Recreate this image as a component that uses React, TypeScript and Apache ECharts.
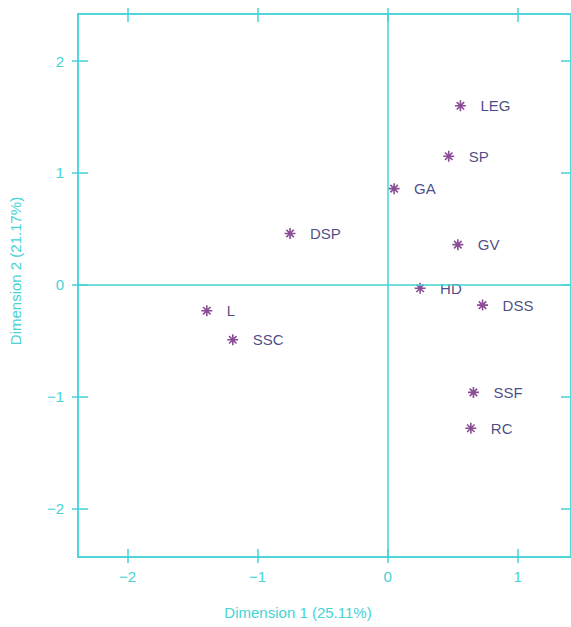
import React, { useEffect, useRef } from "react";
import * as echarts from "echarts";

const names = ["LEG", "SP", "GA", "GV", "HD", "DSS", "DSP", "L", "SSC", "SSF", "RC"];
const dim1 = [0.56, 0.47, 0.05, 0.54, 0.25, 0.73, -0.75, -1.39, -1.19, 0.66, 0.64];
const dim2 = [1.6, 1.15, 0.86, 0.36, -0.03, -0.18, 0.46, -0.23, -0.49, -0.96, -1.28];
const xTicks = [-2, -1, 0, 1];
const yTicks = [-2, -1, 0, 1, 2];
const xName = "Dimension 1 (25.11%)";
const yName = "Dimension 2 (21.17%)";

const CYAN = "#45d3d6";
const FONT = "Liberation Sans";
const star = "path://M0,5L10,5M5,0L5,10M1.6,1.6L8.4,8.4M1.6,8.4L8.4,1.6";

const fmt = (v: number) => String(v).replace("-", "\u2212");

export default function App() {
  const ref = useRef<HTMLDivElement>(null);
  useEffect(() => {
    const chart = echarts.init(ref.current!, null, { renderer: "svg" });
    const xMin = -2.38, xMax = 1.41, yMin = -2.43, yMax = 2.42;
    const axisLine = { show: true, lineStyle: { color: CYAN, width: 1.5 } };
    const mkX = (position: string, inside: boolean, labels: boolean) => ({
      type: "value", position, min: xMin, max: xMax,
      axisLine: { ...axisLine, onZero: false },
      axisTick: { show: true, inside, length: inside ? 8 : 6, customValues: xTicks, lineStyle: { color: CYAN, width: 1.5 } },
      axisLabel: { show: labels, customValues: xTicks, formatter: fmt, color: CYAN, fontFamily: FONT, fontSize: 15, margin: 12 },
      splitLine: { show: false },
    });
    const mkY = (position: string, inside: boolean, labels: boolean) => ({
      type: "value", position, min: yMin, max: yMax,
      axisLine: { ...axisLine, onZero: false },
      axisTick: { show: true, inside, length: inside ? 10 : 6, customValues: yTicks, lineStyle: { color: CYAN, width: 1.5 } },
      axisLabel: { show: labels, customValues: yTicks, formatter: fmt, color: CYAN, fontFamily: FONT, fontSize: 15, margin: 14 },
      splitLine: { show: false },
    });
    chart.setOption({
      animation: false,
      backgroundColor: "#ffffff",
      grid: { left: 78, top: 14, right: -2, bottom: 70, containLabel: false },
      xAxis: [mkX("bottom", false, true), mkX("bottom", true, false), mkX("top", false, false), mkX("top", true, false)],
      yAxis: [mkY("left", false, true), mkY("left", true, false), mkY("right", false, false), mkY("right", true, false)],
      graphic: [
        { type: "text", x: 298, y: 612, style: { text: xName, fill: CYAN, font: `15px "${FONT}"`, align: "center", verticalAlign: "middle" } },
        { type: "text", x: 15, y: 271, rotation: Math.PI / 2, style: { text: yName, fill: CYAN, font: `15px "${FONT}"`, align: "center", verticalAlign: "middle" } },
      ],
      series: [
        {
          type: "scatter",
          xAxisIndex: 0,
          yAxisIndex: 0,
          symbol: star,
          symbolSize: 11,
          itemStyle: { color: "none", borderColor: "#6b1f7a", borderWidth: 1.6 },
          label: { show: true, position: "right", distance: 12, formatter: "{b}", color: "#1a1a66", fontFamily: FONT, fontSize: 15 },
          data: names.map((n, i) => ({ name: n, value: [dim1[i], dim2[i]] })),
          markLine: {
            silent: true,
            symbol: "none",
            label: { show: false },
            lineStyle: { color: CYAN, width: 1.5, type: "solid" },
            data: [{ xAxis: 0 }, { yAxis: 0 }],
          },
          z: 3,
        },
      ],
    });
    return () => chart.dispose();
  }, []);
  return <div ref={ref} style={{ position: "fixed", left: 0, top: 0, width: 571, height: 627 }} />;
}
